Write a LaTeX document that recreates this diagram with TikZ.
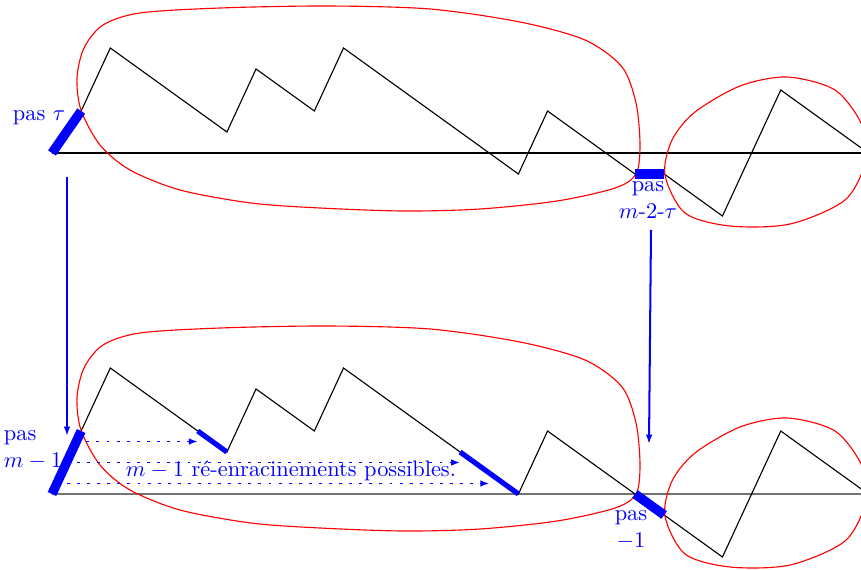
\documentclass[tikz,border=0pt]{standalone}
\usepackage{fontspec}
\usetikzlibrary{arrows.meta,calc}
\newcommand\leftblobpath{\draw[blob] plot[smooth cycle] coordinates {
 (81,110) (77,78) (84,48) (103,25) (140,13) (220,8) (327,6) (430,9) (520,22)
 (585,40) (622,67) (636,103) (640,145) (636,174) (615,188) (557,201) (480,209)
 (404,211) (320,208) (251,203) (180,190) (130,170) (100,145)};}
\newcommand\rightblobpath{\draw[blob] plot[smooth cycle] coordinates {
 (665,175) (672,140) (695,112) (740,86) (787,77) (835,90) (862,125) (866,160)
 (845,200) (790,224) (730,226) (685,213)};}
\begin{document}
\begin{tikzpicture}[x=0.4464pt,y=-0.4464pt,
  walk/.style={black,line width=0.5pt},
  axis/.style={black,line width=0.5pt},
  axisgray/.style={black!55,line width=0.9pt},
  blob/.style={red,line width=0.5pt},
  bigstep/.style={blue,line width=4.2pt},
  midstep/.style={blue,line width=2.3pt},
  bluearrow/.style={blue,line width=0.9pt,-{Latex[length=4.2pt,width=3pt]}},
  dotarrow/.style={blue,line width=0.8pt,dash pattern=on 1.3pt off 3.2pt,-{Latex[length=4pt,width=3pt]}},
  lab/.style={text=blue,inner sep=0pt}]
\useasboundingbox (0,0) rectangle (861,569);
% top walk vertices
\coordinate (t0) at (52,153);
\coordinate (t1) at (81.15,111);
\coordinate (t2) at (110.3,48);
\coordinate (t6) at (226.9,132);
\coordinate (t7) at (256.05,69);
\coordinate (t9) at (314.35,111);
\coordinate (t10) at (343.5,48);
\coordinate (t16) at (518.4,174);
\coordinate (t17) at (547.55,111);
\coordinate (t20) at (635,174);
\coordinate (t21) at (664.15,174);
\coordinate (t23) at (722.45,216);
\coordinate (t25) at (780.75,90);
\coordinate (t28) at (868.2,153);
% bottom walk vertices
\coordinate (b0) at (52,494);
\coordinate (b1) at (81.15,431);
\coordinate (b2) at (110.3,368);
\coordinate (b5) at (197.75,431);
\coordinate (b6) at (226.9,452);
\coordinate (b7) at (256.05,389);
\coordinate (b9) at (314.35,431);
\coordinate (b10) at (343.5,368);
\coordinate (b14) at (460.1,452);
\coordinate (b15) at (489.25,473);
\coordinate (b16) at (518.4,494);
\coordinate (b17) at (547.55,431);
\coordinate (b20) at (635,494);
\coordinate (b21) at (664.15,515);
\coordinate (b23) at (722.45,557);
\coordinate (b25) at (780.75,431);
\coordinate (b28) at (868.2,494);
% baselines
\draw[axis] (t0) -- (t28);
\draw[axisgray] (b0) -- (b28);
% walks
\draw[walk] (t0) -- (t1) -- (t2) -- (t6) -- (t7) -- (t9) -- (t10) -- (t16) -- (t17) -- (t20) -- (t21) -- (t23) -- (t25) -- (t28);
\draw[walk] (b0) -- (b1) -- (b2) -- (b6) -- (b7) -- (b9) -- (b10) -- (b16) -- (b17) -- (b20) -- (b21) -- (b23) -- (b25) -- (b28);
% blobs
\leftblobpath
\rightblobpath
\begin{scope}[shift={(0,320)}]\leftblobpath\end{scope}
\begin{scope}[shift={(0,341)}]\rightblobpath\end{scope}
% dotted arrows
\coordinate (d1) at ($(b0)!0.8333!(b1)$);
\coordinate (d2) at ($(b0)!0.5!(b1)$);
\coordinate (d3) at ($(b0)!0.1667!(b1)$);
\draw[dotarrow] (d1) -- (b5 |- d1);
\draw[dotarrow] (d2) -- (b14 |- d2);
\draw[dotarrow] (d3) -- (b15 |- d3);
% blue steps
\draw[bigstep] (t0) -- (t1);
\draw[bigstep] (t20) -- (t21);
\draw[bigstep] (b0) -- (b1);
\draw[bigstep] (b20) -- (b21);
\draw[midstep] (b5) -- (b6);
\draw[midstep] (b14) -- (b15);
\draw[midstep] (b15) -- (b16);
% vertical arrows
\coordinate (a1s) at (67,177);
\coordinate (a1e) at (67,436);
\coordinate (a2s) at (651,230);
\coordinate (a2e) at (649,444);
\draw[bluearrow] (a1s) -- (a1e);
\draw[bluearrow] (a2s) -- (a2e);
% labels
\node[lab] (ltau) at (39,118) {pas $\tau$};
\node[lab,align=center] (lflat) at (648,200) {pas\\$m$-2-$\tau$};
\node[lab,align=left] (lm1) at (33,450) {pas\\$m-1$};
\node[lab,align=center] (lneg) at (631,530) {pas\\$-1$};
\node[lab] (txt) at (291,471) {$m-1$ ré-enracinements possibles.};
\end{tikzpicture}
\end{document}
